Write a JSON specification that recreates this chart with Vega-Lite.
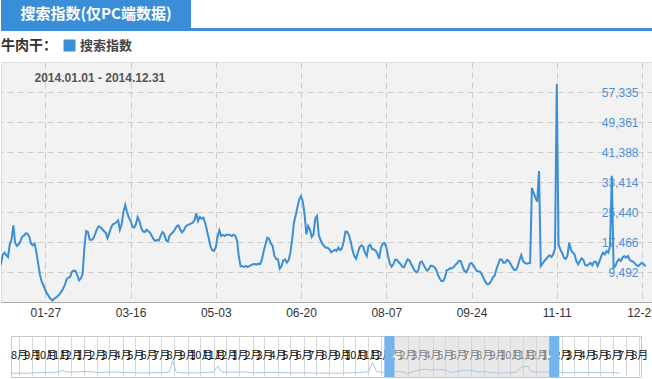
{
"$schema":"https://vega.github.io/schema/vega-lite/v6.json",
"padding":0,
"background":"white",
"spacing":0,
"config":{"view":{"stroke":null},"font":"Liberation Sans"},
"resolve":{"scale":{"color":"independent"},"legend":{"color":"independent"}},
"datasets":{
"main":[
{"d":"2014-01-01","v":11300},{"d":"2014-01-02","v":11530},{"d":"2014-01-03","v":14011},{"d":"2014-01-04","v":14631},{"d":"2014-01-05","v":14011},{"d":"2014-01-06","v":13479},{"d":"2014-01-07","v":16846},{"d":"2014-01-08","v":18175},{"d":"2014-01-09","v":21896},{"d":"2014-01-10","v":17289},{"d":"2014-01-11","v":16403},{"d":"2014-01-12","v":16846},{"d":"2014-01-13","v":17732},{"d":"2014-01-14","v":18884},{"d":"2014-01-15","v":19150},{"d":"2014-01-16","v":19770},{"d":"2014-01-17","v":19681},{"d":"2014-01-18","v":18795},{"d":"2014-01-19","v":17023},{"d":"2014-01-20","v":16580},{"d":"2014-01-21","v":17023},{"d":"2014-01-22","v":14631},{"d":"2014-01-23","v":11707},{"d":"2014-01-24","v":8695},{"d":"2014-01-25","v":6923},{"d":"2014-01-26","v":5860},{"d":"2014-01-27","v":4708},{"d":"2014-01-28","v":3733},{"d":"2014-01-29","v":3024},{"d":"2014-01-30","v":2316},{"d":"2014-01-31","v":1961},
{"d":"2014-02-01","v":2404},{"d":"2014-02-02","v":2670},{"d":"2014-02-03","v":3113},{"d":"2014-02-04","v":3556},{"d":"2014-02-05","v":4265},{"d":"2014-02-06","v":5062},{"d":"2014-02-07","v":6037},{"d":"2014-02-08","v":7632},{"d":"2014-02-09","v":7986},{"d":"2014-02-10","v":8163},{"d":"2014-02-11","v":9581},{"d":"2014-02-12","v":9847},{"d":"2014-02-13","v":9758},{"d":"2014-02-14","v":8695},{"d":"2014-02-15","v":7277},{"d":"2014-02-16","v":7809},{"d":"2014-02-17","v":8872},{"d":"2014-02-18","v":15960},{"d":"2014-02-19","v":20390},{"d":"2014-02-20","v":20124},{"d":"2014-02-21","v":18086},{"d":"2014-02-22","v":17998},{"d":"2014-02-23","v":18352},{"d":"2014-02-24","v":19504},{"d":"2014-02-25","v":20833},{"d":"2014-02-26","v":21630},{"d":"2014-02-27","v":21453},{"d":"2014-02-28","v":20922},
{"d":"2014-03-01","v":20390},{"d":"2014-03-02","v":19947},{"d":"2014-03-03","v":18500},{"d":"2014-03-04","v":19770},{"d":"2014-03-05","v":21276},{"d":"2014-03-06","v":22162},{"d":"2014-03-07","v":22339},{"d":"2014-03-08","v":22694},{"d":"2014-03-09","v":23226},{"d":"2014-03-10","v":20744},{"d":"2014-03-11","v":22162},{"d":"2014-03-12","v":25529},{"d":"2014-03-13","v":27301},{"d":"2014-03-14","v":25440},{"d":"2014-03-15","v":23934},{"d":"2014-03-16","v":23226},{"d":"2014-03-17","v":21542},{"d":"2014-03-18","v":21276},{"d":"2014-03-19","v":22162},{"d":"2014-03-20","v":24111},{"d":"2014-03-21","v":23048},{"d":"2014-03-22","v":21187},{"d":"2014-03-23","v":20301},{"d":"2014-03-24","v":20124},{"d":"2014-03-25","v":20744},{"d":"2014-03-26","v":20301},{"d":"2014-03-27","v":19947},{"d":"2014-03-28","v":19061},{"d":"2014-03-29","v":18175},{"d":"2014-03-30","v":17732},{"d":"2014-03-31","v":18018},
{"d":"2014-04-01","v":17909},{"d":"2014-04-02","v":19238},{"d":"2014-04-03","v":20124},{"d":"2014-04-04","v":19504},{"d":"2014-04-05","v":17909},{"d":"2014-04-06","v":17555},{"d":"2014-04-07","v":19150},{"d":"2014-04-08","v":19681},{"d":"2014-04-09","v":20124},{"d":"2014-04-10","v":20833},{"d":"2014-04-11","v":21630},{"d":"2014-04-12","v":21896},{"d":"2014-04-13","v":20744},{"d":"2014-04-14","v":20036},{"d":"2014-04-15","v":20567},{"d":"2014-04-16","v":21542},{"d":"2014-04-17","v":21985},{"d":"2014-04-18","v":22162},{"d":"2014-04-19","v":22339},{"d":"2014-04-20","v":22605},{"d":"2014-04-21","v":23226},{"d":"2014-04-22","v":25086},{"d":"2014-04-23","v":23048},{"d":"2014-04-24","v":24111},{"d":"2014-04-25","v":23668},{"d":"2014-04-26","v":23934},{"d":"2014-04-27","v":22605},{"d":"2014-04-28","v":20567},{"d":"2014-04-29","v":18441},{"d":"2014-04-30","v":16314},
{"d":"2014-05-01","v":15300},{"d":"2014-05-02","v":15074},{"d":"2014-05-03","v":16000},{"d":"2014-05-04","v":18884},{"d":"2014-05-05","v":20567},{"d":"2014-05-06","v":19061},{"d":"2014-05-07","v":19327},{"d":"2014-05-08","v":19061},{"d":"2014-05-09","v":19415},{"d":"2014-05-10","v":19415},{"d":"2014-05-11","v":19327},{"d":"2014-05-12","v":19061},{"d":"2014-05-13","v":19415},{"d":"2014-05-14","v":19150},{"d":"2014-05-15","v":17732},{"d":"2014-05-16","v":13479},{"d":"2014-05-17","v":10998},{"d":"2014-05-18","v":10998},{"d":"2014-05-19","v":10821},{"d":"2014-05-20","v":11087},{"d":"2014-05-21","v":10821},{"d":"2014-05-22","v":11087},{"d":"2014-05-23","v":11353},{"d":"2014-05-24","v":11530},{"d":"2014-05-25","v":11619},{"d":"2014-05-26","v":11442},{"d":"2014-05-27","v":11707},{"d":"2014-05-28","v":11619},{"d":"2014-05-29","v":12859},{"d":"2014-05-30","v":15074},{"d":"2014-05-31","v":16846},
{"d":"2014-06-01","v":18618},{"d":"2014-06-02","v":18352},{"d":"2014-06-03","v":17023},{"d":"2014-06-04","v":16403},{"d":"2014-06-05","v":13745},{"d":"2014-06-06","v":12948},{"d":"2014-06-07","v":12859},{"d":"2014-06-08","v":10379},{"d":"2014-06-09","v":11000},{"d":"2014-06-10","v":12593},{"d":"2014-06-11","v":12859},{"d":"2014-06-12","v":11973},{"d":"2014-06-13","v":12593},{"d":"2014-06-14","v":14631},{"d":"2014-06-15","v":18175},{"d":"2014-06-16","v":22605},{"d":"2014-06-17","v":24554},{"d":"2014-06-18","v":26769},{"d":"2014-06-19","v":28807},{"d":"2014-06-20","v":29693},{"d":"2014-06-21","v":28187},{"d":"2014-06-22","v":24820},{"d":"2014-06-23","v":19504},{"d":"2014-06-24","v":21719},{"d":"2014-06-25","v":20833},{"d":"2014-06-26","v":18795},{"d":"2014-06-27","v":19504},{"d":"2014-06-28","v":23757},{"d":"2014-06-29","v":24377},{"d":"2014-06-30","v":19300},
{"d":"2014-07-01","v":18000},{"d":"2014-07-02","v":17023},{"d":"2014-07-03","v":16403},{"d":"2014-07-04","v":15960},{"d":"2014-07-05","v":15960},{"d":"2014-07-06","v":15517},{"d":"2014-07-07","v":14720},{"d":"2014-07-08","v":15074},{"d":"2014-07-09","v":15428},{"d":"2014-07-10","v":15074},{"d":"2014-07-11","v":15960},{"d":"2014-07-12","v":15340},{"d":"2014-07-13","v":15694},{"d":"2014-07-14","v":17555},{"d":"2014-07-15","v":20213},{"d":"2014-07-16","v":20124},{"d":"2014-07-17","v":19238},{"d":"2014-07-18","v":17555},{"d":"2014-07-19","v":15251},{"d":"2014-07-20","v":13745},{"d":"2014-07-21","v":13036},{"d":"2014-07-22","v":14631},{"d":"2014-07-23","v":16137},{"d":"2014-07-24","v":16580},{"d":"2014-07-25","v":16226},{"d":"2014-07-26","v":14631},{"d":"2014-07-27","v":13745},{"d":"2014-07-28","v":16403},{"d":"2014-07-29","v":16669},{"d":"2014-07-30","v":15606},{"d":"2014-07-31","v":15517},
{"d":"2014-08-01","v":15163},{"d":"2014-08-02","v":14365},{"d":"2014-08-03","v":13036},{"d":"2014-08-04","v":15960},{"d":"2014-08-05","v":17023},{"d":"2014-08-06","v":17200},{"d":"2014-08-07","v":16137},{"d":"2014-08-08","v":13745},{"d":"2014-08-09","v":11707},{"d":"2014-08-10","v":10910},{"d":"2014-08-11","v":11530},{"d":"2014-08-12","v":12770},{"d":"2014-08-13","v":12770},{"d":"2014-08-14","v":12062},{"d":"2014-08-15","v":11619},{"d":"2014-08-16","v":10910},{"d":"2014-08-17","v":10733},{"d":"2014-08-18","v":11884},{"d":"2014-08-19","v":12859},{"d":"2014-08-20","v":12593},{"d":"2014-08-21","v":11619},{"d":"2014-08-22","v":10733},{"d":"2014-08-23","v":9847},{"d":"2014-08-24","v":9404},{"d":"2014-08-25","v":9935},{"d":"2014-08-26","v":11973},{"d":"2014-08-27","v":12300},{"d":"2014-08-28","v":11450},{"d":"2014-08-29","v":10470},{"d":"2014-08-30","v":9847},{"d":"2014-08-31","v":10290},
{"d":"2014-09-01","v":11176},{"d":"2014-09-02","v":11087},{"d":"2014-09-03","v":10821},{"d":"2014-09-04","v":10201},{"d":"2014-09-05","v":8872},{"d":"2014-09-06","v":7809},{"d":"2014-09-07","v":7100},{"d":"2014-09-08","v":7100},{"d":"2014-09-09","v":7986},{"d":"2014-09-10","v":9935},{"d":"2014-09-11","v":10112},{"d":"2014-09-12","v":10467},{"d":"2014-09-13","v":10467},{"d":"2014-09-14","v":10821},{"d":"2014-09-15","v":11442},{"d":"2014-09-16","v":11884},{"d":"2014-09-17","v":12505},{"d":"2014-09-18","v":12327},{"d":"2014-09-19","v":10821},{"d":"2014-09-20","v":9758},{"d":"2014-09-21","v":9404},{"d":"2014-09-22","v":10290},{"d":"2014-09-23","v":11619},{"d":"2014-09-24","v":11884},{"d":"2014-09-25","v":11265},{"d":"2014-09-26","v":10467},{"d":"2014-09-27","v":9758},{"d":"2014-09-28","v":9670},{"d":"2014-09-29","v":9492},{"d":"2014-09-30","v":8695},
{"d":"2014-10-01","v":7632},{"d":"2014-10-02","v":6746},{"d":"2014-10-03","v":6214},{"d":"2014-10-04","v":6391},{"d":"2014-10-05","v":7100},{"d":"2014-10-06","v":7986},{"d":"2014-10-07","v":8518},{"d":"2014-10-08","v":10200},{"d":"2014-10-09","v":11500},{"d":"2014-10-10","v":12800},{"d":"2014-10-11","v":12800},{"d":"2014-10-12","v":11900},{"d":"2014-10-13","v":12000},{"d":"2014-10-14","v":12700},{"d":"2014-10-15","v":12400},{"d":"2014-10-16","v":11650},{"d":"2014-10-17","v":10700},{"d":"2014-10-18","v":10100},{"d":"2014-10-19","v":10050},{"d":"2014-10-20","v":11000},{"d":"2014-10-21","v":12700},{"d":"2014-10-22","v":14011},{"d":"2014-10-23","v":12400},{"d":"2014-10-24","v":11900},{"d":"2014-10-25","v":11700},{"d":"2014-10-26","v":11800},{"d":"2014-10-27","v":11884},{"d":"2014-10-28","v":31899},{"d":"2014-10-29","v":30500},{"d":"2014-10-30","v":29200},{"d":"2014-10-31","v":28200},
{"d":"2014-11-01","v":36338},{"d":"2014-11-02","v":11087},{"d":"2014-11-03","v":11707},{"d":"2014-11-04","v":12416},{"d":"2014-11-05","v":12948},{"d":"2014-11-06","v":13568},{"d":"2014-11-07","v":13922},{"d":"2014-11-08","v":13479},{"d":"2014-11-09","v":14188},{"d":"2014-11-10","v":15800},{"d":"2014-11-11","v":59450},{"d":"2014-11-12","v":16846},{"d":"2014-11-13","v":15517},{"d":"2014-11-14","v":14543},{"d":"2014-11-15","v":13300},{"d":"2014-11-16","v":12948},{"d":"2014-11-17","v":13745},{"d":"2014-11-18","v":17289},{"d":"2014-11-19","v":15340},{"d":"2014-11-20","v":14631},{"d":"2014-11-21","v":14188},{"d":"2014-11-22","v":12416},{"d":"2014-11-23","v":11530},{"d":"2014-11-24","v":12416},{"d":"2014-11-25","v":13125},{"d":"2014-11-26","v":12682},{"d":"2014-11-27","v":11353},{"d":"2014-11-28","v":11176},{"d":"2014-11-29","v":11530},{"d":"2014-11-30","v":11884},
{"d":"2014-12-01","v":11265},{"d":"2014-12-02","v":12240},{"d":"2014-12-03","v":12240},{"d":"2014-12-04","v":11087},{"d":"2014-12-05","v":12240},{"d":"2014-12-06","v":13656},{"d":"2014-12-07","v":14631},{"d":"2014-12-08","v":14188},{"d":"2014-12-09","v":15074},{"d":"2014-12-10","v":14631},{"d":"2014-12-11","v":16500},{"d":"2014-12-12","v":35100},{"d":"2014-12-13","v":10650},{"d":"2014-12-14","v":11087},{"d":"2014-12-15","v":12240},{"d":"2014-12-16","v":12859},{"d":"2014-12-17","v":12416},{"d":"2014-12-18","v":13302},{"d":"2014-12-19","v":13745},{"d":"2014-12-20","v":13302},{"d":"2014-12-21","v":13745},{"d":"2014-12-22","v":12770},{"d":"2014-12-23","v":12416},{"d":"2014-12-24","v":12240},{"d":"2014-12-25","v":11796},{"d":"2014-12-26","v":11265},{"d":"2014-12-27","v":11087},{"d":"2014-12-28","v":11530},{"d":"2014-12-29","v":11973},{"d":"2014-12-30","v":11530},{"d":"2014-12-31","v":10998}
],
"overview":[
{"d":"2011-07-15","v":9000},{"d":"2011-08-01","v":9500},{"d":"2011-08-15","v":9000},{"d":"2011-09-01","v":10000},{"d":"2011-09-15","v":10500},{"d":"2011-10-01","v":11000},{"d":"2011-10-15","v":11500},{"d":"2011-11-01","v":12000},{"d":"2011-11-11","v":16000},{"d":"2011-11-20","v":12500},{"d":"2011-12-01","v":12000},{"d":"2011-12-15","v":12500},
{"d":"2012-01-01","v":13000},{"d":"2012-01-15","v":13500},{"d":"2012-02-01","v":11000},{"d":"2012-02-15","v":11500},{"d":"2012-03-01","v":12000},{"d":"2012-03-15","v":12000},{"d":"2012-04-01","v":11500},{"d":"2012-04-15","v":11000},{"d":"2012-05-01","v":10500},{"d":"2012-05-15","v":10000},{"d":"2012-06-01","v":10000},{"d":"2012-06-15","v":10500},{"d":"2012-07-01","v":10500},{"d":"2012-07-20","v":12000},{"d":"2012-07-28","v":40000},{"d":"2012-08-05","v":12000},{"d":"2012-08-15","v":10500},{"d":"2012-09-01","v":10000},{"d":"2012-09-15","v":10000},{"d":"2012-10-01","v":10500},{"d":"2012-10-15","v":11000},{"d":"2012-11-01","v":12000},{"d":"2012-11-11","v":26000},{"d":"2012-11-20","v":12500},{"d":"2012-12-01","v":12000},{"d":"2012-12-15","v":11500},
{"d":"2013-01-01","v":12000},{"d":"2013-01-15","v":12500},{"d":"2013-02-01","v":10000},{"d":"2013-02-15","v":10500},{"d":"2013-03-01","v":11000},{"d":"2013-03-15","v":11500},{"d":"2013-04-01","v":11000},{"d":"2013-04-15","v":10500},{"d":"2013-05-01","v":10000},{"d":"2013-05-15","v":10000},{"d":"2013-06-01","v":10500},{"d":"2013-06-15","v":10000},{"d":"2013-07-01","v":9500},{"d":"2013-07-15","v":9500},{"d":"2013-08-01","v":9500},{"d":"2013-08-15","v":9000},{"d":"2013-09-01","v":9500},{"d":"2013-09-15","v":10000},{"d":"2013-10-01","v":10500},{"d":"2013-10-15","v":11000},{"d":"2013-11-01","v":13000},{"d":"2013-11-11","v":35000},{"d":"2013-11-20","v":13000},{"d":"2013-12-01","v":12000},{"d":"2013-12-15","v":12000},
{"d":"2014-01-01","v":12000},{"d":"2014-01-15","v":14000},{"d":"2014-02-01","v":8000},{"d":"2014-02-15","v":13000},{"d":"2014-03-01","v":17000},{"d":"2014-03-15","v":19000},{"d":"2014-04-01","v":17000},{"d":"2014-04-15","v":18000},{"d":"2014-05-01","v":17000},{"d":"2014-05-15","v":11000},{"d":"2014-06-01","v":14000},{"d":"2014-06-15","v":17000},{"d":"2014-07-01","v":16000},{"d":"2014-07-15","v":13000},{"d":"2014-08-01","v":13000},{"d":"2014-08-15","v":11000},{"d":"2014-09-01","v":10000},{"d":"2014-09-15","v":10000},{"d":"2014-10-01","v":10000},{"d":"2014-10-15","v":12000},{"d":"2014-10-28","v":24000},{"d":"2014-11-11","v":26000},{"d":"2014-11-20","v":13000},{"d":"2014-12-01","v":12000},{"d":"2014-12-15","v":12500},
{"d":"2015-01-01","v":12000},{"d":"2015-01-15","v":12500},{"d":"2015-02-01","v":11000},{"d":"2015-02-15","v":10000},{"d":"2015-03-01","v":11000},{"d":"2015-03-15","v":11500},{"d":"2015-04-01","v":11000},{"d":"2015-04-15","v":11000},{"d":"2015-05-01","v":10500},{"d":"2015-05-15","v":10500},{"d":"2015-06-01","v":10500},{"d":"2015-06-15","v":10000}
]
},
"vconcat":[
{
"width":190,"height":28,
"view":{"fill":"#3a8ed8","stroke":null},
"data":{"values":[{"t":"搜索指数(仅PC端数据)"}]},
"mark":{"type":"text","color":"white","font":"Noto Sans CJK SC","fontSize":15,"fontWeight":"bold"},
"encoding":{"text":{"field":"t"}}
},
{
"width":652,"height":3,
"view":{"fill":"#3a8ed8","stroke":null},
"data":{"values":[{"t":""}]},
"mark":{"type":"text","fontSize":1},
"encoding":{"text":{"field":"t"}}
},
{
"width":652,"height":240,
"view":{"fill":"#f2f2f2","stroke":"#dddddd"},
"data":{"name":"main"},
"resolve":{"axis":{"x":"independent"}},
"layer":[
{
"mark":{"type":"line","strokeWidth":2,"clip":true},
"encoding":{
"x":{"field":"d","type":"temporal",
"scale":{"type":"utc","domain":[{"year":2014,"month":1,"date":2,"hours":1,"minutes":16,"utc":true},{"year":2015,"month":1,"date":4,"hours":4,"minutes":34,"utc":true}]},
"axis":{"orient":"bottom","title":null,"format":"%m-%d",
"values":[{"year":2014,"month":1,"date":27,"utc":true},{"year":2014,"month":3,"date":16,"utc":true},{"year":2014,"month":5,"date":3,"utc":true},{"year":2014,"month":6,"date":20,"utc":true},{"year":2014,"month":8,"date":7,"utc":true},{"year":2014,"month":9,"date":24,"utc":true},{"year":2014,"month":11,"date":11,"utc":true},{"year":2014,"month":12,"date":29,"utc":true}],
"grid":true,"gridDash":[6,4],"gridColor":"#cccccc","ticks":false,"domainColor":"#aaaaaa","labelColor":"#333333","labelFont":"Liberation Sans","labelFontSize":12,"labelPadding":5,"labelOverlap":false,"labelFlush":false,"minExtent":27,"maxExtent":27}},
"y":{"field":"v","type":"quantitative","scale":{"domain":[1518,65310],"nice":false,"zero":false},
"axis":{"orient":"right","title":null,"values":[9492,17466,25440,33414,41388,49361,57335],"format":",d","grid":true,"gridDash":[6,4],"gridColor":"#cccccc","ticks":false,"domain":false,"labelAlign":"right","labelBaseline":"middle","labelPadding":-15,"labelColor":"#4d90d6","labelFont":"Liberation Sans","labelFontSize":12,"labelOverlap":false,"minExtent":0,"maxExtent":0}},
"color":{"datum":"搜索指数","scale":{"range":["#3a8fd6"]},
"legend":{"orient":"none","legendX":0,"legendY":-23,"direction":"horizontal","title":"牛肉干：","titleOrient":"left","titleFont":"Noto Sans CJK SC","titleFontSize":14,"titleFontWeight":"bold","titleColor":"#333333","titlePadding":6,"symbolType":"square","symbolSize":144,"labelFont":"Noto Sans CJK SC","labelFontSize":13,"labelFontWeight":"bold","labelColor":"#444444","labelOffset":4,"padding":0,
"encode":{"symbols":{"update":{"fill":{"value":"#3a8fd6"},"stroke":{"value":"#3a8fd6"},"strokeWidth":{"value":0}}}}}}
}
},
{
"data":{"values":[{"d":"2014-06-01"}]},
"mark":{"type":"rule","opacity":0},
"encoding":{
"x":{"field":"d","type":"temporal",
"axis":{"orient":"top","title":"2014.01.01 - 2014.12.31","titleX":33,"titleY":15,"titleAlign":"left","titleBaseline":"middle","titleAngle":0,"titleFont":"Liberation Sans","titleFontSize":12,"titleFontWeight":"bold","titleColor":"#555555","labels":false,"ticks":false,"domain":false,"grid":false,"minExtent":30,"maxExtent":30}}
}
}
]
},
{
"hconcat":[
{
"width":9,"height":41,
"data":{"values":[{"t":""}]},
"mark":{"type":"text","fontSize":1},
"encoding":{"text":{"field":"t"}}
},
{
"width":630,"height":41,
"view":{"fill":"white","stroke":"#c8c8c8"},
"layer":[
{
"data":{"values":[{"s":"2014-01-01","e":"2015-01-01"}]},
"mark":{"type":"rect","color":"#d6d6d6","opacity":0.55},
"encoding":{
"x":{"field":"s","type":"temporal",
"scale":{"type":"utc","domain":[{"year":2011,"month":7,"date":13,"utc":true},{"year":2015,"month":8,"date":5,"utc":true}]},
"axis":{"orient":"top","title":null,"tickCount":{"interval":"month","step":1},"format":"%-m月","grid":true,"gridColor":"#d8d8d8","ticks":false,"domain":false,"labelPadding":-19,"labelBaseline":"middle","labelAlign":"center","labelColor":"#111111","labelFont":"Noto Sans CJK SC","labelFontSize":11,"labelOverlap":false,"labelFlush":false,"labelBound":false,"minExtent":0,"maxExtent":0}},
"x2":{"field":"e"},
"y":{"value":0},
"y2":{"value":"height"}
}
},
{
"data":{"name":"overview"},
"mark":{"type":"line","color":"#a8c8e6","strokeWidth":1,"clip":true},
"encoding":{
"x":{"field":"d","type":"temporal"},
"y":{"field":"v","type":"quantitative","scale":{"domain":[0,100000],"nice":false},"axis":null}
}
},
{
"data":{"values":[{"h":"2014-01-01"}]},
"mark":{"type":"rule","color":"#72b4ee","strokeWidth":10,"xOffset":-5},
"encoding":{"x":{"field":"h","type":"temporal"}}
},
{
"data":{"values":[{"h":"2015-01-01"}]},
"mark":{"type":"rule","color":"#72b4ee","strokeWidth":10,"xOffset":5},
"encoding":{"x":{"field":"h","type":"temporal"}}
},
{
"data":{"values":[{"h":"2014-01-01","k":"l"},{"h":"2015-01-01","k":"r"}]},
"mark":{"type":"point","filled":true,"color":"white","size":22,"opacity":1},
"encoding":{
"x":{"field":"h","type":"temporal"},
"xOffset":{"field":"k","type":"nominal","scale":{"domain":["l","r"],"range":[-5,5]}},
"shape":{"field":"k","type":"nominal","scale":{"domain":["l","r"],"range":["triangle-left","triangle-right"]},"legend":null}
}
}
]
}
],
"spacing":0,
"align":"each"
}
]
}
